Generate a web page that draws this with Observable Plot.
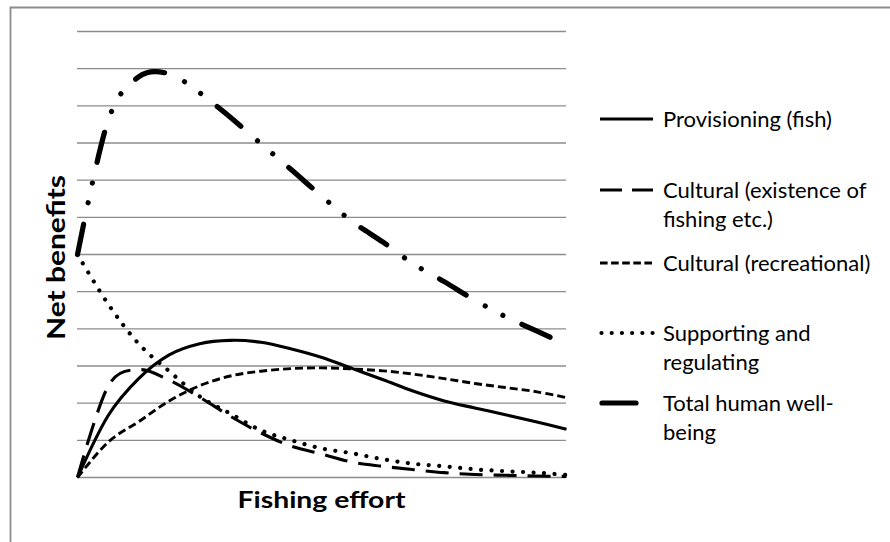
<!DOCTYPE html>
<html>
<head>
<meta charset="utf-8">
<script src="https://cdn.jsdelivr.net/npm/d3@7"></script>
<script src="https://cdn.jsdelivr.net/npm/@observablehq/plot@0.6"></script>
<style>
  html, body { margin: 0; padding: 0; background: #fff; }
  #chart { width: 890px; height: 542px; }
</style>
</head>
<body>
<div id="chart"></div>
<script>
// ---- data ----
const effort = [0, 1, 2, 3, 4, 5, 6, 7, 8, 9, 10, 11, 12, 13, 14, 15, 16];
const gridValues = [0, 1, 2, 3, 4, 5, 6, 7, 8, 9, 10, 11, 12];

const provisioning = [0, 1.66, 2.66, 3.3, 3.6, 3.69, 3.64, 3.46, 3.23, 2.93, 2.63, 2.32, 2.06, 1.87, 1.69, 1.5, 1.3];
const existence    = [0, 2.45, 2.9, 2.62, 2.16, 1.65, 1.2, 0.84, 0.63, 0.41, 0.3, 0.21, 0.13, 0.08, 0.06, 0.04, 0.03];
const recreational = [0, 0.95, 1.5, 2.06, 2.47, 2.73, 2.86, 2.93, 2.95, 2.92, 2.87, 2.78, 2.66, 2.53, 2.42, 2.31, 2.15];
const supporting   = [6.0, 4.67, 3.6, 2.86, 2.18, 1.72, 1.27, 1.0, 0.78, 0.65, 0.49, 0.37, 0.3, 0.22, 0.17, 0.13, 0.07];
const total        = [6.0, 9.6, 10.78, 10.86, 10.35, 9.69, 8.98, 8.28, 7.56, 6.88, 6.33, 5.74, 5.27, 4.77, 4.33, 3.95, 3.57];

const seriesNames = [
  ["Provisioning (fish)"],
  ["Cultural (existence of", "fishing etc.)"],
  ["Cultural (recreational)"],
  ["Supporting and", "regulating"],
  ["Total human well-", "being"]
];

// ---- styles ----
const styles = [
  {width: 3.1, dash: null, cap: "butt"},
  {width: 3.1, dash: "23,11", cap: "butt"},
  {width: 2.9, dash: "8,4", cap: "butt"},
  {width: 4.2, dash: "0.01,10.5", cap: "round"},
  {width: 5.2, dash: "31,22,0.01,20,0.01,21", cap: "round"}
];
const seriesValues = [provisioning, existence, recreational, supporting, total];

const font = "Lato, 'Liberation Sans', sans-serif";

const lineMarks = seriesValues.map((vals, k) =>
  Plot.line(effort, {
    x: d => d,
    y: (d, i) => vals[i],
    curve: "cardinal",
    tension: 0,
    stroke: "#000",
    strokeWidth: styles[k].width,
    strokeDasharray: styles[k].dash,
    strokeLinecap: styles[k].cap,
    strokeLinejoin: "round"
  })
);

const plot = Plot.plot({
  width: 890,
  height: 542,
  marginLeft: 77,
  marginRight: 324,
  marginTop: 31,
  marginBottom: 65,
  style: {background: "#fff", fontFamily: font},
  x: {domain: [0, 16], axis: null},
  y: {domain: [0, 12], axis: null},
  marks: [
    Plot.ruleY(gridValues, {stroke: "#8c8c8c", strokeWidth: 1.3}),
    ...lineMarks
  ]
});

document.getElementById("chart").appendChild(plot);

// ---- decorations: frame, axis titles, legend ----
const svg = d3.select(plot);

// chart-area frame (top and left edges visible)
svg.append("path")
  .attr("d", "M10.5,542 L10.5,7.5 L890,7.5")
  .attr("fill", "none")
  .attr("stroke", "#8c8c8c")
  .attr("stroke-width", 1.8);

// x axis title
svg.append("text")
  .attr("x", 321.5)
  .attr("y", 508)
  .attr("text-anchor", "middle")
  .attr("font-family", font)
  .attr("font-weight", "bold")
  .attr("font-size", 23)
  .attr("textLength", 168)
  .attr("lengthAdjust", "spacingAndGlyphs")
  .attr("fill", "#000")
  .text("Fishing effort");

// y axis title
svg.append("text")
  .attr("transform", "translate(65,257.5) rotate(-90)")
  .attr("text-anchor", "middle")
  .attr("font-family", font)
  .attr("font-weight", "bold")
  .attr("font-size", 24)
  .attr("textLength", 165)
  .attr("lengthAdjust", "spacingAndGlyphs")
  .attr("fill", "#000")
  .text("Net benefits");

// legend
const legendY = [119, 190, 263, 333, 403];
const legendSample = [
  {x1: 600, x2: 653, dash: null},
  {x1: 600, x2: 653, dash: "22,10"},
  {x1: 600, x2: 653, dash: "7.6,3.5"},
  {x1: 601.5, x2: 653, dash: "0.01,10.2"},
  {x1: 602, x2: 636, dash: null}
];
const lg = svg.append("g").attr("text-anchor", "start");
seriesNames.forEach((lines, k) => {
  const y = legendY[k];
  lg.append("line")
    .attr("x1", legendSample[k].x1).attr("x2", legendSample[k].x2)
    .attr("y1", y).attr("y2", y)
    .attr("stroke", "#000")
    .attr("stroke-width", styles[k].width)
    .attr("stroke-linecap", styles[k].cap)
    .attr("stroke-dasharray", legendSample[k].dash);
  lines.forEach((t, j) => {
    lg.append("text")
      .attr("x", 663)
      .attr("y", y + 7.5 + j * 29.5)
      .attr("text-anchor", "start")
      .attr("font-family", font)
      .attr("font-size", 22)
      .attr("fill", "#000")
      .text(t);
  });
});
</script>
</body>
</html>
